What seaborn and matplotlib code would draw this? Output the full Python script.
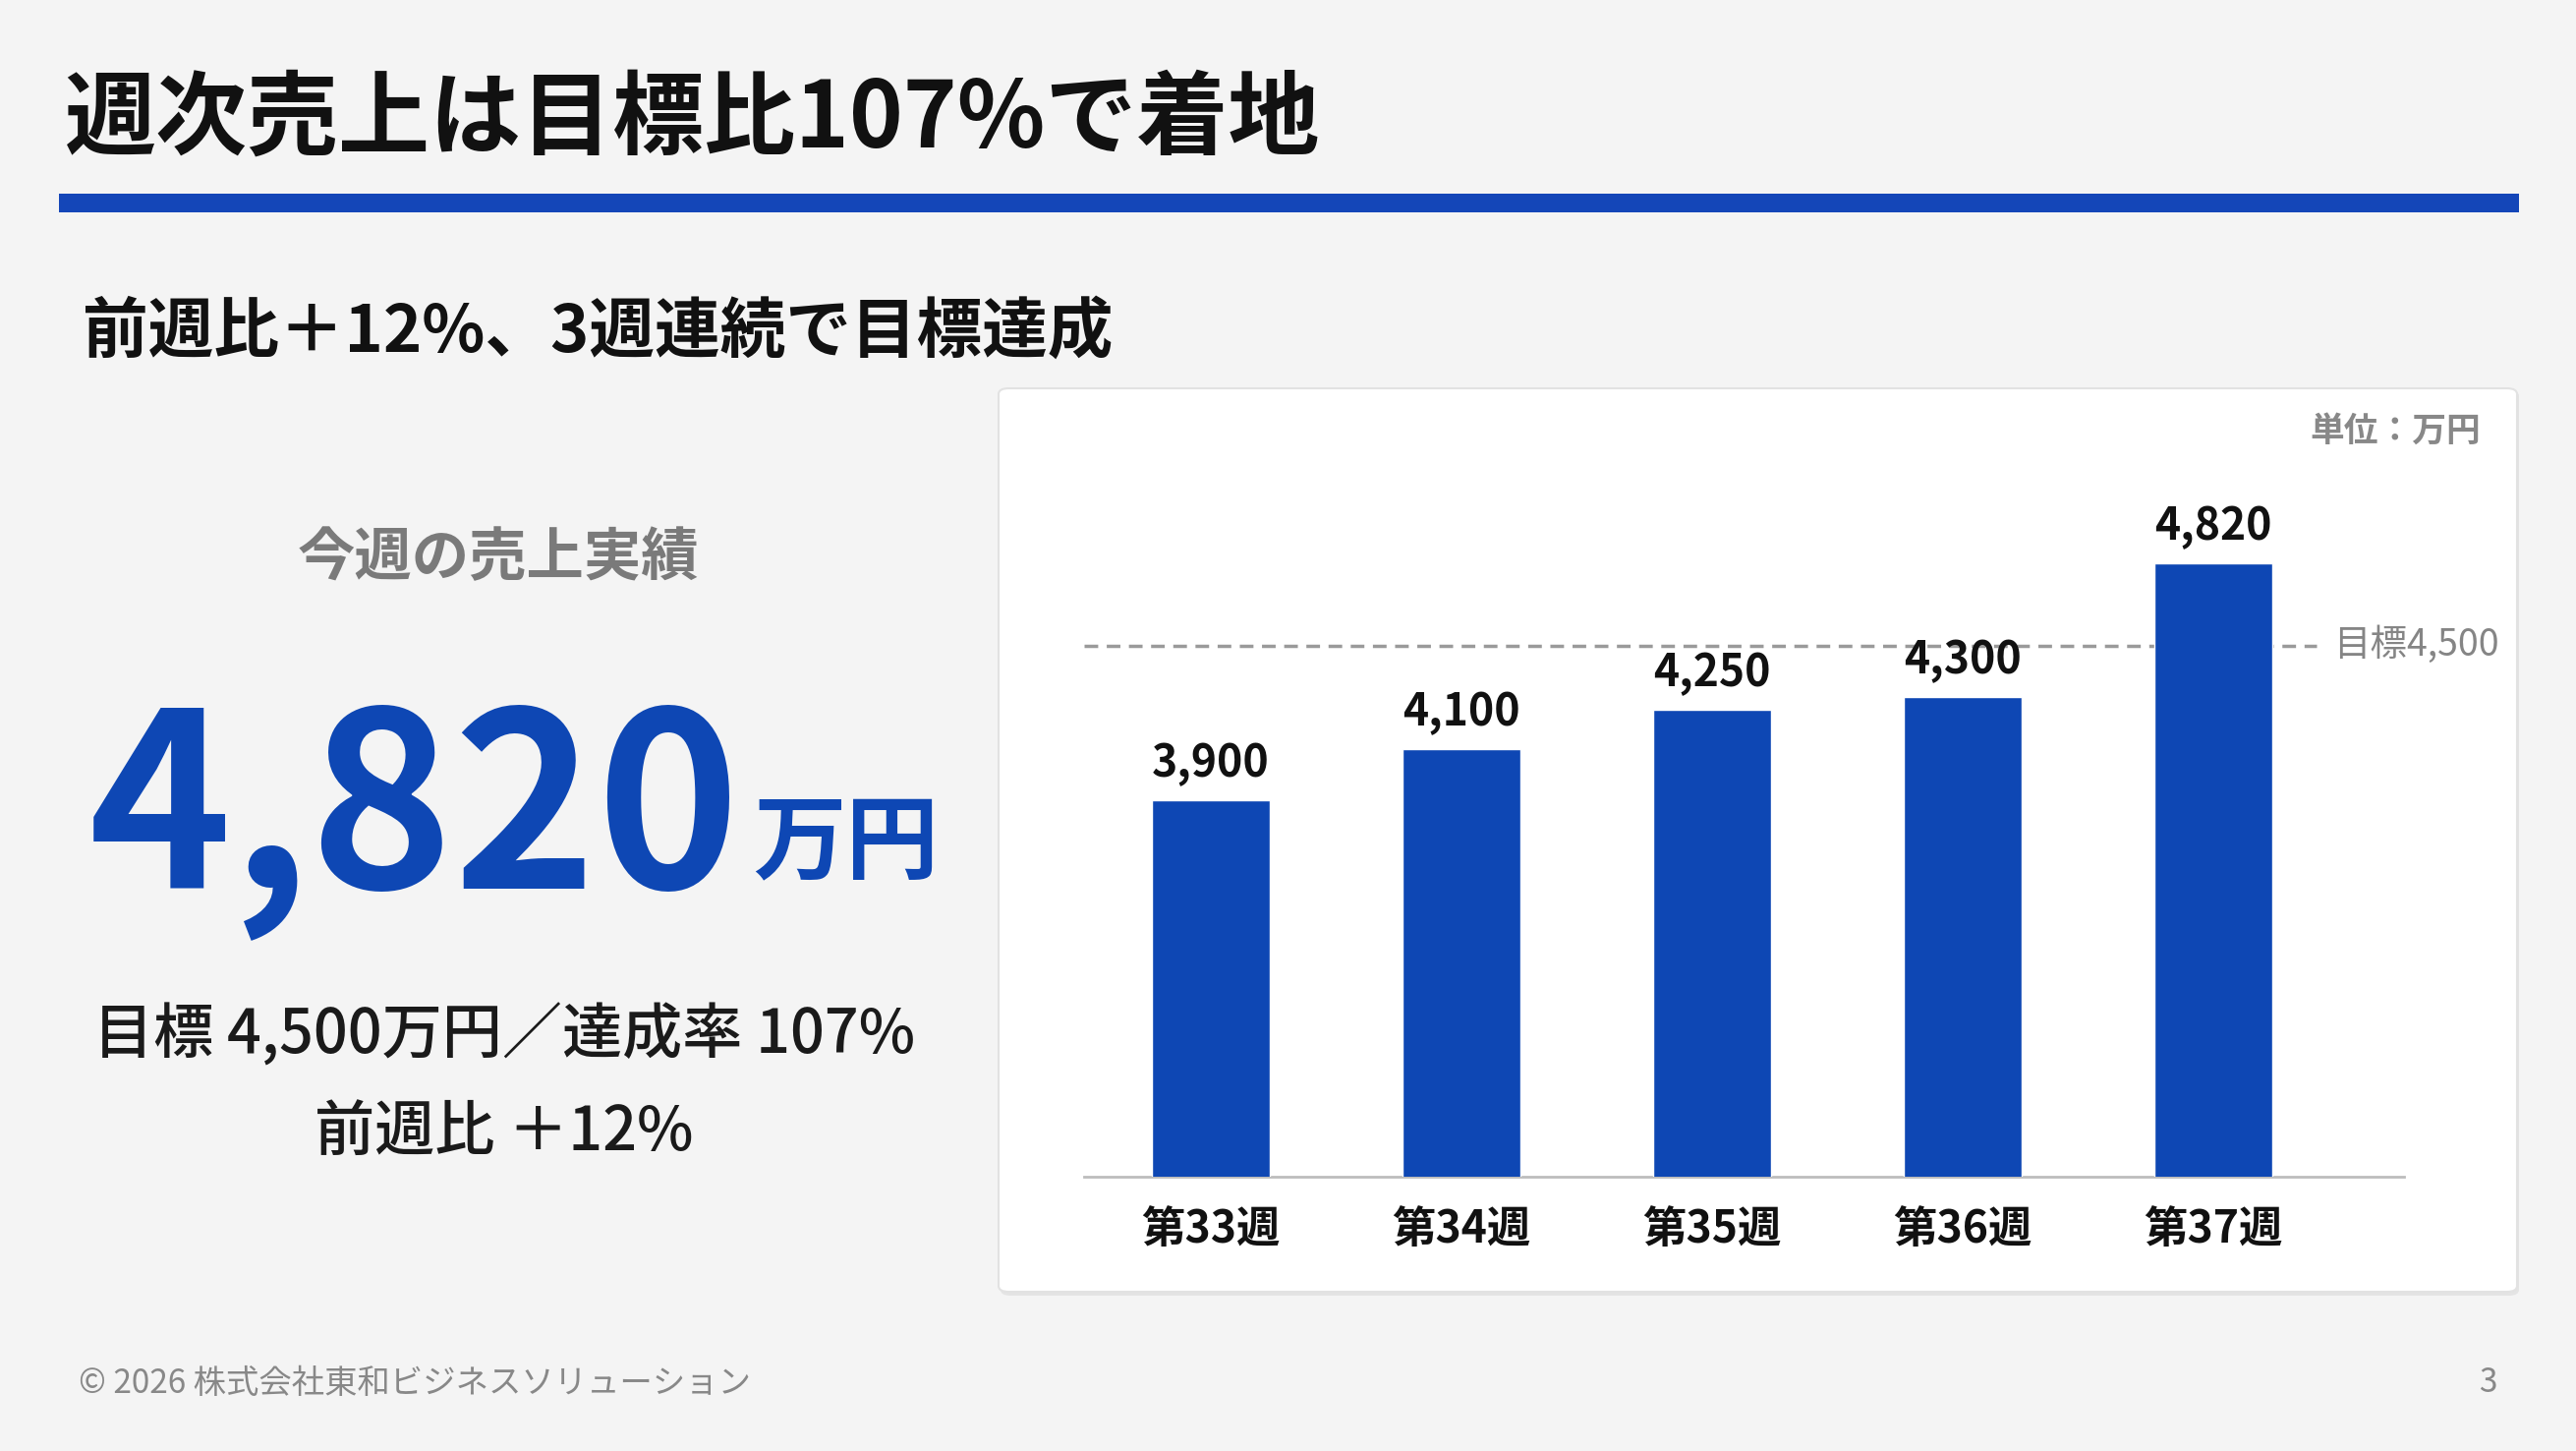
import matplotlib
matplotlib.use("Agg")
import matplotlib.pyplot as plt
from matplotlib.patches import FancyBboxPatch, Rectangle
import seaborn as sns
import pandas as pd

# ---- data ----
weeks = ["第33週", "第34週", "第35週", "第36週", "第37週"]
sales = [3900, 4100, 4250, 4300, 4820]
target = 4500
value_labels = ["3,900", "4,100", "4,250", "4,300", "4,820"]

title = "週次売上は目標比107%で着地"
subtitle = "前週比＋12%、3週連続で目標達成"
kpi_label = "今週の売上実績"
kpi_value = "4,820"
kpi_unit = "万円"
kpi_line1 = "目標 4,500万円／達成率 107%"
kpi_line2 = "前週比 ＋12%"
unit_note = "単位：万円"
target_label = "目標4,500"
footer = "© 2026 株式会社東和ビジネスソリューション"
page_no = "3"

BLUE = "#0E47B4"
BG = "#F4F4F4"

sns.set_theme(style="white")
plt.rcParams["font.family"] = ["Noto Sans CJK JP", "DejaVu Sans"]

W, H = 2621, 1476
fig = plt.figure(figsize=(W / 100, H / 100), dpi=100, facecolor=BG)

def fx(x):
    return x / W

def fy(y):
    return 1 - y / H

# title + rule
fig.text(fx(66), fy(122), title, fontsize=67, fontweight="bold", color="#111111",
         ha="left", va="center")
fig.patches.append(Rectangle((fx(60), fy(216)), fx(2563) - fx(60), (216 - 197) / H,
                             transform=fig.transFigure, facecolor="#1446B8",
                             edgecolor="none"))
fig.text(fx(84), fy(338), subtitle, fontsize=48, fontweight="bold", color="#111111",
         ha="left", va="center")

# card with shadow
fig.patches.append(FancyBboxPatch((fx(1018), fy(1318)), fx(2561) - fx(1016), (1318 - 397) / H,
                                  boxstyle="round,pad=0,rounding_size=0.004",
                                  transform=fig.transFigure, facecolor="#DADADA",
                                  edgecolor="none", alpha=0.6, zorder=0))
fig.patches.append(FancyBboxPatch((fx(1016), fy(1314)), fx(2561) - fx(1016), (1314 - 395) / H,
                                  boxstyle="round,pad=0,rounding_size=0.004",
                                  transform=fig.transFigure, facecolor="white",
                                  edgecolor="#E2E2E2", linewidth=1.5, zorder=1))
fig.text(fx(2524), fy(438), unit_note, fontsize=25, fontweight="bold", color="#888888",
         ha="right", va="center", zorder=5)

# left KPI panel
fig.text(fx(507), fy(568), kpi_label, fontsize=42, fontweight="bold", color="#7A7A7A",
         ha="center", va="center")
num = fig.text(fx(90), fy(903), kpi_value, fontsize=178, fontweight="bold", color=BLUE,
               ha="left", va="baseline")
fig.canvas.draw()
r = fig.canvas.get_renderer()
bb = num.get_window_extent(renderer=r)
fig.text((bb.x1 + 12) / W, fy(886), kpi_unit, fontsize=68, fontweight="bold", color=BLUE,
         ha="left", va="baseline")
fig.text(fx(513), fy(1053), kpi_line1, fontsize=44, fontweight="medium", color="#1A1A1A",
         ha="center", va="center")
fig.text(fx(513), fy(1152), kpi_line2, fontsize=44, fontweight="medium", color="#1A1A1A",
         ha="center", va="center")

# footer
fig.text(fx(80), fy(1407), footer, fontsize=24, color="#888888", ha="left", va="center")
fig.text(fx(2541), fy(1407), page_no, fontsize=24, color="#888888", ha="right", va="center")

# bar chart axes
ax_left, ax_right = 1103, 2446
ax_top, ax_bottom = 501, 1197
ax = fig.add_axes([fx(ax_left), fy(ax_bottom), (ax_right - ax_left) / W,
                   (ax_bottom - ax_top) / H], zorder=3)
ax.set_facecolor("none")
df = pd.DataFrame({"week": weeks, "sales": sales})
sns.barplot(data=df, x="week", y="sales", color=BLUE, width=0.47, saturation=1,
            ax=ax, zorder=3)
ymin, ymax = 2437, 5095
ax.set_xlim(-0.505, 4.76)
ax.set_ylim(ymin, ymax)

for i, (v, lab) in enumerate(zip(sales, value_labels)):
    ax.annotate(lab, (i, v), xytext=(0, 10), textcoords="offset points",
                ha="center", va="bottom", fontsize=32, fontweight="bold",
                color="#111111")

ax.plot([-0.505, 4.413], [target, target], color="#9A9A9A", linewidth=2.5,
        linestyle=(0, (4, 2.5)), zorder=2)
ax.text(4.479, target, target_label, fontsize=27, color="#858585",
        ha="left", va="center")

for s in ["top", "left", "right"]:
    ax.spines[s].set_visible(False)
ax.spines["bottom"].set_color("#BDBDBD")
ax.spines["bottom"].set_linewidth(2)
ax.set_yticks([])
ax.set_xlabel("")
ax.set_ylabel("")
ax.tick_params(axis="x", length=0, pad=22)
for t in ax.get_xticklabels():
    t.set_fontsize(32)
    t.set_fontweight("bold")
    t.set_color("#111111")

fig.savefig("out.png", dpi=100, facecolor=BG)
